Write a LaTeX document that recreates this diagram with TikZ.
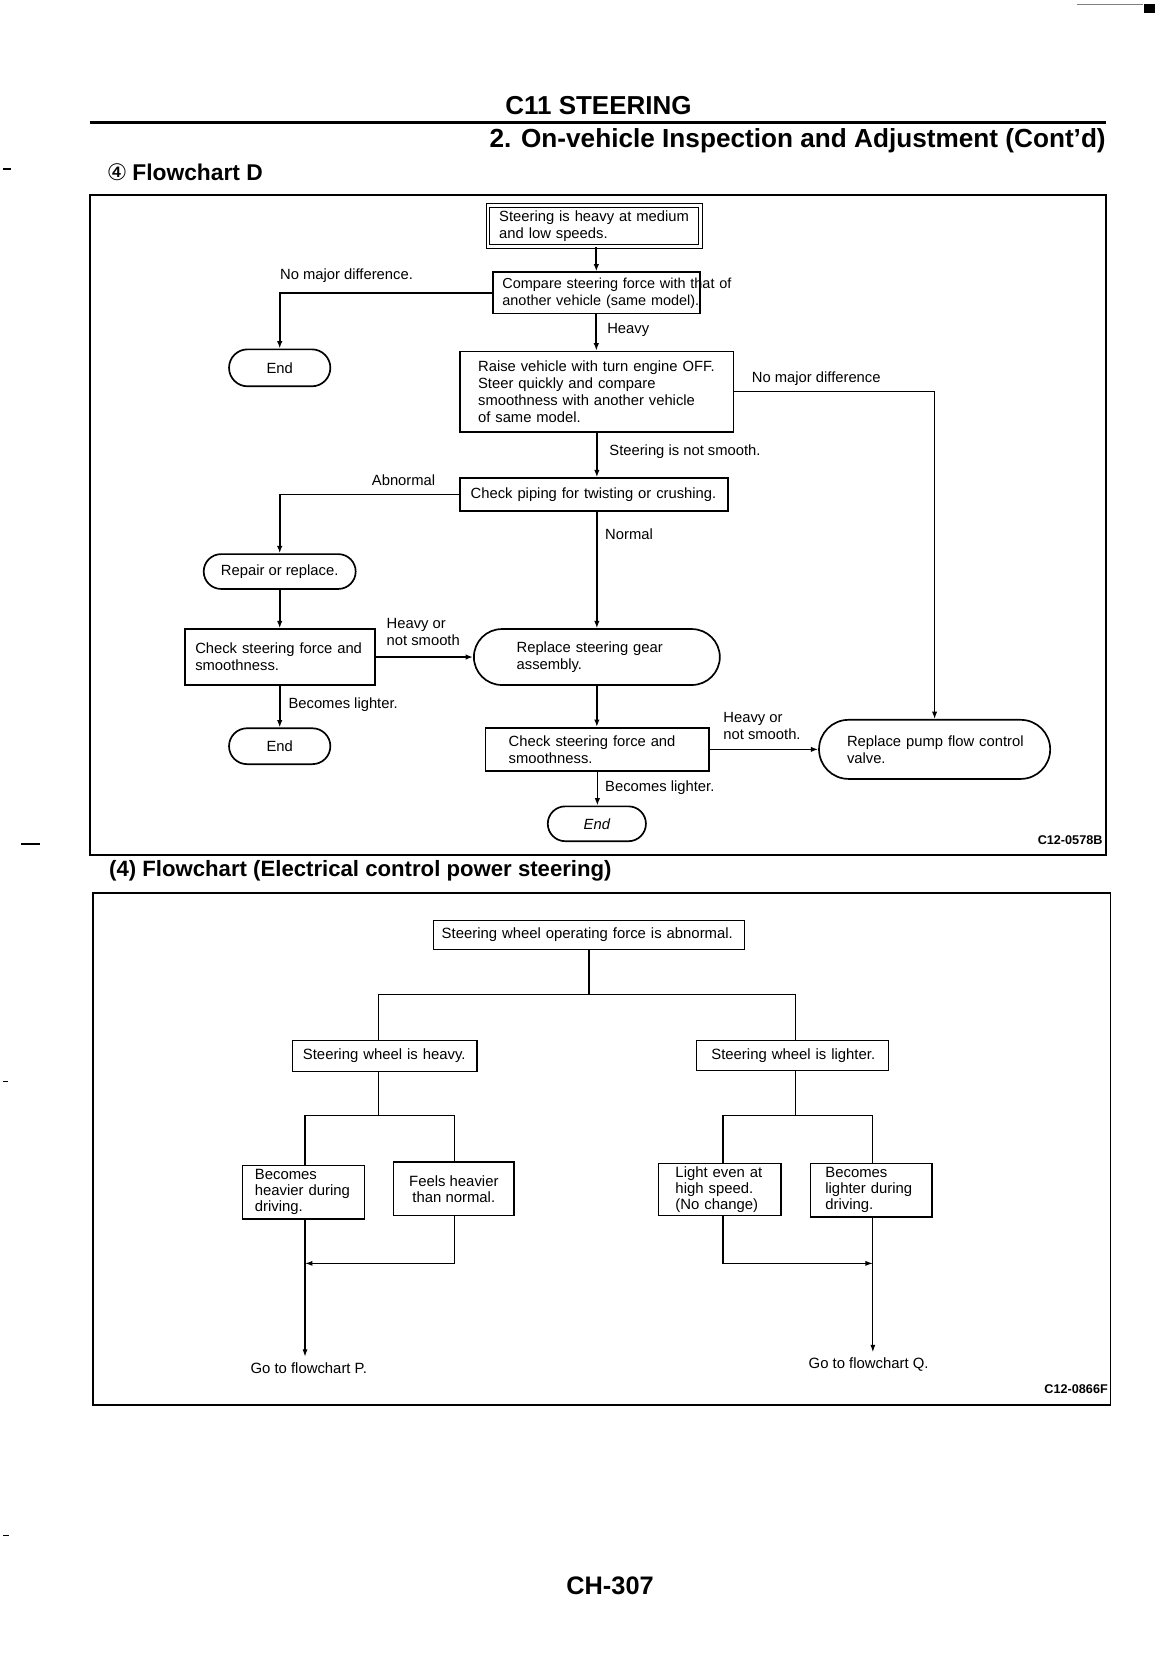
\documentclass[tikz,border=0pt]{standalone}
\usepackage{fontspec}
\setmainfont{Liberation Sans}
\newfontfamily\djv{DejaVu Sans}
\usetikzlibrary{arrows.meta}
\newcommand\fs{\fontsize{7.0pt}{8.15pt}\selectfont}
\newcommand\fsc{\fontsize{6.85pt}{8.15pt}\selectfont}
\newcommand\fsl{\fontsize{7.05pt}{7.5pt}\selectfont}
\begin{document}
\begin{tikzpicture}[x=0.5pt,y=-0.5pt,
 box/.style={draw, line width=0.8pt, font=\fs, align=left, inner ysep=0pt},
 term/.style={draw, line width=0.8pt, font=\fs, align=center, inner sep=0pt},
 lbl/.style={font=\fs, inner sep=0pt, anchor=west, align=left},
 arr/.style={line width=0.8pt, -{Latex[length=3.5pt,width=2.6pt]}},
 lbox/.style={draw, line width=0.55pt, font=\fsl, align=left, inner ysep=0pt},
 lln/.style={line width=0.55pt},
 larr/.style={line width=0.55pt, -{Latex[length=3.5pt,width=2.4pt]}},
 goto/.style={font=\fsl, inner sep=2.5pt},
 frame/.style={line width=0.8pt},
 head/.style={font=\bfseries\fontsize{12.4pt}{14pt}\selectfont, inner sep=0pt}
]
\useasboundingbox (0,0) rectangle (1096.3,1569);

% page marks
\draw[gray, line width=0.6pt] (1020,4.3) -- (1083,4.3);
\fill (1084,3.5) rectangle (1094,12);
\draw[line width=0.6pt] (3,160) -- (10,160);
\draw[line width=1pt] (20,800) -- (38,800);
\draw[line width=0.6pt] (3,1025) -- (8,1025);
\draw[line width=0.6pt] (3,1455) -- (9,1455);

% header
\node[head, font=\bfseries\fontsize{12.3pt}{14pt}\selectfont] (h1) at (567,100) {C11 STEERING};
\draw[line width=1.6pt] (85,116) -- (1048,116);
\node[head, anchor=east] (h2) at (1048,133) {2. On-vehicle Inspection and Adjustment (Cont'd)};
\node[inner sep=0pt, font=\djv\fontsize{10.8pt}{12pt}\selectfont] (h3) at (111,163) {④};
\node[inner sep=0pt, anchor=west, font=\bfseries\fontsize{10.8pt}{12pt}\selectfont] (h4) at (125,163) {Flowchart D};

% frame 1
\draw[frame] (85,185) rectangle (1048,810);

\node[box, double, double distance=1.2pt, line width=0.5pt, minimum width=100.5pt, minimum height=19.5pt, text width=90pt, inner xsep=5.25pt] (n1) at (563,214) {\mbox{Steering is heavy at medium}\\and low speeds.};
\node[box, font=\fsc, minimum width=98pt, minimum height=19.5pt, text width=89pt, inner xsep=4.5pt] (n2) at (565,277.5) {\mbox{Compare steering force with that of}\\\mbox{another vehicle (same model).}};
\node[term, rounded corners=8.75pt, minimum width=48pt, minimum height=17.5pt] (e1) at (265,348.5) {End};
\node[box, minimum width=129.5pt, minimum height=38pt, text width=112.5pt, inner xsep=8.5pt] (n3) at (565.5,371) {\mbox{Raise vehicle with turn engine OFF.}\\Steer quickly and compare\\smoothness with another vehicle\\of same model.};
\node[box, minimum width=127pt, minimum height=15.5pt, text width=117pt, inner xsep=5pt] (n4) at (563,468.5) {\mbox{Check piping for twisting or crushing.}};
\node[term, rounded corners=8.25pt, minimum width=72pt, minimum height=16.5pt] (n5) at (265,541.5) {Repair or replace.};
\node[box, minimum width=90pt, minimum height=26.5pt, text width=80pt, inner xsep=5pt] (n6) at (265,622.5) {\mbox{Check steering force and}\\smoothness.};
\node[term, rounded corners=13.25pt, minimum width=116.5pt, minimum height=26.5pt, text width=76pt, align=left] (n7) at (565.5,622.5) {Replace steering gear\\assembly.};
\node[term, rounded corners=8.5pt, minimum width=48pt, minimum height=17pt] (e2) at (265,707) {End};
\node[box, minimum width=106pt, minimum height=20.5pt, text width=84pt, inner xsep=11pt] (n8) at (566,710) {\mbox{Check steering force and}\\smoothness.};
\node[term, rounded corners=14pt, minimum width=109.5pt, minimum height=28pt, text width=83pt, align=left] (n9) at (885.5,710) {\mbox{Replace pump flow control}\\valve.};
\node[term, rounded corners=8.25pt, minimum width=46.5pt, minimum height=16.5pt, font=\fs\itshape] (e3) at (565.5,780.5) {End};

\draw[arr] (n2.north |- n1.south) -- (n2.north);
\draw[arr] (n2.south) -- (n2.south |- n3.north);
\draw[arr] (n2.west) -| (e1.north);
\draw[arr] (n3.east) -| (n9.north);
\draw[arr] (n3.south) -- (n3.south |- n4.north);
\draw[arr] (n4.west) -| (n5.north);
\draw[arr] (n7.north |- n4.south) -- (n7.north);
\draw[arr] (n5.south) -- (n6.north);
\draw[arr] (n6.east) -- (n7.west);
\draw[arr] (n6.south) -- (e2.north);
\draw[arr] (n7.south) -- (n7.south |- n8.north);
\draw[arr] (n8.east) -- (n9.west);
\draw[arr] (n8.south) -- (n8.south |- e3.north);

\node[lbl] (t1) at (265,261) {No major difference.};
\node[lbl] (t2) at (575,313) {Heavy};
\node[lbl] (t3) at (712,359) {No major difference};
\node[lbl] (t4) at (577,428) {Steering is not smooth.};
\node[lbl] (t5) at (352,455) {Abnormal};
\node[lbl] (t6) at (573,506) {Normal};
\node[lbl] (t7) at (366,598.5) {Heavy or\\not smooth};
\node[lbl] (t8) at (273,668) {Becomes lighter.};
\node[lbl] (t9) at (685,688) {Heavy or\\not smooth.};
\node[lbl] (t10) at (573,746) {Becomes lighter.};

\node[inner sep=0pt, anchor=east, font=\bfseries\fontsize{6pt}{7pt}\selectfont] (c1) at (1045,796) {C12-0578B};

% section 4 title
\node[inner sep=0pt, anchor=west, font=\bfseries\fontsize{10.5pt}{12pt}\selectfont] (h5) at (103,825) {(4) Flowchart (Electrical control power steering)};

% frame 2
\draw[frame] (88,846) rectangle (1052,1331);

\node[lbox, minimum width=147.5pt, minimum height=14pt, text width=139.5pt, inner xsep=4pt] (m1) at (558,886) {\mbox{Steering wheel operating force is abnormal.}};
\node[lbox, minimum width=87.5pt, minimum height=14.5pt, text width=77.5pt, inner xsep=5pt] (m2) at (364.5,1000.5) {\mbox{Steering wheel is heavy.}};
\node[lbox, minimum width=91pt, minimum height=14pt, text width=77pt, inner xsep=7pt] (m3) at (751,1000) {\mbox{Steering wheel is lighter.}};
\node[lbox, minimum width=57.5pt, minimum height=25.5pt, text width=46pt, inner xsep=5.75pt] (m4) at (287.5,1129.5) {Becomes\\\mbox{heavier during}\\driving.};
\node[lbox, minimum width=57pt, minimum height=25.5pt, align=center, inner xsep=3pt] (m5) at (430,1126.5) {Feels heavier\\than normal.};
\node[lbox, minimum width=58pt, minimum height=25pt, text width=42pt, inner xsep=8pt] (m6) at (682,1127) {\mbox{Light even at}\\high speed.\\(No change)};
\node[lbox, minimum width=57.5pt, minimum height=25.5pt, text width=43.5pt, inner xsep=7pt] (m7) at (825.5,1127.5) {Becomes\\\mbox{lighter during}\\driving.};
\node[goto] (gP) at (292.5,1296) {Go to flowchart P.};
\node[goto] (gQ) at (823,1293) {Go to flowchart Q.};

\coordinate (jL) at (359,942);
\coordinate (jR) at (754,942);
\coordinate (kL) at (289,1057);
\coordinate (kR) at (431,1057);
\coordinate (mL) at (685,1057);
\coordinate (mR) at (827,1057);
\coordinate (nP) at (289,1197);
\coordinate (nQ) at (827,1197);

\draw[lln] (m1.south) -- (m1.south |- jL);
\draw[lln] (jL |- m2.north) -- (jL) -- (jR) -- (jR |- m3.north);
\draw[lln] (jL |- m2.south) -- (jL |- kL);
\draw[lln] (kL |- m4.north) -- (kL) -- (kR) -- (kR |- m5.north);
\draw[lln] (jR |- m3.south) -- (jR |- mL);
\draw[lln] (mL |- m6.north) -- (mL) -- (mR) -- (mR |- m7.north);
\draw[larr] (kL |- m4.south) -- (kL |- gP.north);
\draw[larr] (kR |- m5.south) |- (nP);
\draw[larr] (mL |- m6.south) |- (nQ);
\draw[larr] (mR |- m7.south) -- (mR |- gQ.north);

\node[inner sep=0pt, anchor=east, font=\bfseries\fontsize{6pt}{7pt}\selectfont] (c2) at (1050,1316) {C12-0866F};

\node[inner sep=0pt, font=\bfseries\fontsize{12pt}{13pt}\selectfont] (pg) at (578,1502) {CH-307};
\end{tikzpicture}
\end{document}
